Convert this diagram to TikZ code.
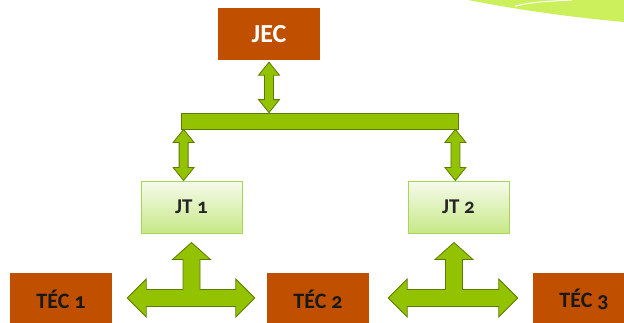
\documentclass[tikz,border=0pt]{standalone}
\usepackage{fontspec}
\setmainfont{Carlito}[Numbers=OldStyle]
\usepackage{tikz}
\usetikzlibrary{calc}
\definecolor{tecbrown}{RGB}{192,80,0}
\definecolor{arrowfill}{RGB}{146,194,0}
\definecolor{arrowdraw}{RGB}{92,124,0}
\definecolor{teamtop}{RGB}{246,251,236}
\definecolor{teambot}{RGB}{198,232,134}
\definecolor{teamline}{RGB}{166,214,84}
\definecolor{swoosh}{RGB}{204,240,92}
\tikzstyle{box}=[minimum width=102pt,minimum height=52pt,inner sep=0pt,font=\bfseries\fontsize{22}{22}\selectfont]
\tikzstyle{chief}=[box,fill=tecbrown,text=white,font=\bfseries\fontsize{26}{26}\selectfont]
\tikzstyle{tec}=[box,fill=tecbrown,text=black!90]
\tikzstyle{team}=[box,minimum width=101pt,top color=teamtop,bottom color=teambot,draw=teamline,line width=1pt,text=black!85,font=\bfseries\fontsize{21}{21}\selectfont]
\tikzstyle{garrow}=[fill=arrowfill,draw=arrowdraw,line width=.8pt,line join=miter]
% vertical two-headed block arrow, from #1 (upper tip) down to #2 (lower tip)
\newcommand\dblarrow[2]{%
  \filldraw[garrow] let \p1=(#1), \p2=(#2) in
    (\x1,\y1) -- (\x1+10.5pt,\y1-13pt) -- (\x1+4.5pt,\y1-13pt) -- (\x1+4.5pt,\y2+13pt)
    -- (\x1+10.5pt,\y2+13pt) -- (\x1,\y2) -- (\x1-10.5pt,\y2+13pt) -- (\x1-4.5pt,\y2+13pt)
    -- (\x1-4.5pt,\y1-13pt) -- (\x1-10.5pt,\y1-13pt) -- cycle;}
% three-headed block arrow: #1 upper tip, #2 left tip, #3 right tip
\newcommand\tarrow[3]{%
  \filldraw[garrow] let \p1=(#1), \p2=(#2), \p3=(#3) in
    (\x1,\y1) -- (\x1+19pt,\y1-17pt) -- (\x1+8.5pt,\y1-17pt) -- (\x1+8.5pt,\y2+8.5pt)
    -- (\x3-19pt,\y2+8.5pt) -- (\x3-19pt,\y2+19pt) -- (\x3,\y2) -- (\x3-19pt,\y2-19pt)
    -- (\x3-19pt,\y2-8.5pt) -- (\x2+19pt,\y2-8.5pt) -- (\x2+19pt,\y2-19pt) -- (\x2,\y2)
    -- (\x2+19pt,\y2+19pt) -- (\x2+19pt,\y2+8.5pt) -- (\x1-8.5pt,\y2+8.5pt)
    -- (\x1-8.5pt,\y1-17pt) -- (\x1-19pt,\y1-17pt) -- cycle;}
\begin{document}
\begin{tikzpicture}[x=1pt,y=-1pt]
	\clip (0,0) rectangle (624,322);
	% background swoosh
	\fill[swoosh] (468,0) .. controls (530,12) and (580,18) .. (624,22) -- (624,0) -- cycle;
	\draw[white,line width=1pt] (515,6) .. controls (535,2) .. (572,0);
	\node[chief] (jec) at (269,34) {JEC};
	\node[fill=arrowfill,draw=arrowdraw,line width=.8pt,minimum width=277pt,minimum height=16pt,inner sep=0pt] (bar) at (319.5,121) {};
	\node[team] (jt1) at (191.5,207) {JT 1};
	\node[team] (jt2) at (458.5,207) {JT 2};
	\node[tec] (tec1) at (61,299) {TÉC 1};
	\node[tec] (tec2) at (318,299) {TÉC 2};
	\node[tec] (tec3) at (584,299) {TÉC 3};
	\dblarrow{$(jec.south)+(0,2)$}{jec.south |- bar.north}
	\coordinate (lj) at ($(bar.south west)+(3,0)$);
	\coordinate (rj) at ($(bar.south east)+(-3,0)$);
	\dblarrow{lj}{lj |- jt1.north}
	\dblarrow{rj}{rj |- jt2.north}
	\tarrow{$(jt1.south)+(0,9)$}{$(tec1.east)+(15,-1)$}{$(tec2.west)+(-12,-1)$}
	\tarrow{$(jt2.south)+(-4.5,9)$}{$(tec2.east)+(19,-1)$}{$(tec3.west)+(-15,-1)$}
\end{tikzpicture}
\end{document}
